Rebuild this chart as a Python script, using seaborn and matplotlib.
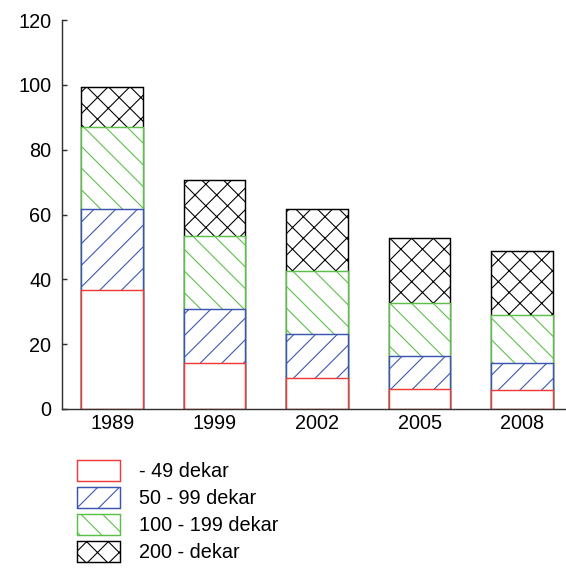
import numpy as np
import pandas as pd
import matplotlib
matplotlib.use("Agg")
import matplotlib.pyplot as plt
from matplotlib.patches import Patch
import seaborn as sns

years = ["1989", "1999", "2002", "2005", "2008"]
s_lt49 = [36.7, 14.1, 9.7, 6.1, 5.9]
s_50_99 = [25.1, 16.9, 13.3, 10.1, 8.4]
s_100_199 = [25.2, 22.3, 19.6, 16.6, 14.6]
s_200 = [12.4, 17.3, 19.1, 19.9, 19.8]
labels = ["- 49 dekar", "50 - 99 dekar", "100 - 199 dekar", "200 - dekar"]
yticks = [0, 20, 40, 60, 80, 100, 120]

sns.set_style("white")
plt.rcParams['font.family'] = ['Liberation Sans', 'DejaVu Sans']
plt.rcParams['hatch.linewidth'] = 0.6
plt.rcParams['text.color'] = 'black'
plt.rcParams['xtick.labelcolor'] = 'black'
plt.rcParams['ytick.labelcolor'] = 'black'

DPI = 130
FS = 11
fig = plt.figure(figsize=(566 / DPI, 570 / DPI), dpi=DPI)
ax = fig.add_axes([62 / 566, 1 - 409 / 570, 1 - 62 / 566, (409 - 20) / 570])

series = [s_lt49, s_50_99, s_100_199, s_200]
colors = ["#f03a3a", "#3a55b0", "#5cbf4a", "#000000"]
hatches = [None, "//", "\\\\", "xx"]
cums = np.cumsum(np.array(series), axis=0)

for i in range(3, -1, -1):
    df = pd.DataFrame({"year": years, "val": cums[i]})
    kw = {}
    if hatches[i]:
        kw["hatch"] = hatches[i]
    sns.barplot(data=df, x="year", y="val", order=years, color="white",
                edgecolor=colors[i], linewidth=0.8, width=0.6, ax=ax,
                saturation=1, **kw)

ax.set_xlim(-0.49, 4.43)
ax.set_ylim(0, 120)
ax.set_yticks(yticks)
ax.set_xlabel("")
ax.set_ylabel("")
for sp in ["top", "right"]:
    ax.spines[sp].set_visible(False)
for sp in ["left", "bottom"]:
    ax.spines[sp].set_color("#333333")
    ax.spines[sp].set_linewidth(0.8)
ax.tick_params(axis="y", direction="in", length=3, width=0.8, color="#333333",
               labelsize=FS, pad=6, left=True, labelcolor="black")
ax.tick_params(axis="x", length=0, labelsize=FS, pad=3, labelcolor="black")

handles = []
for i in range(4):
    handles.append(Patch(facecolor="white", edgecolor=colors[i], linewidth=0.8,
                         hatch=hatches[i]))
leg = fig.legend(handles, labels, loc="upper left", bbox_to_anchor=(73 / 566, 1 - 456 / 570),
                 frameon=False, fontsize=FS, handlelength=2.17, handleheight=1.25,
                 handletextpad=0.96, labelspacing=0.29, borderaxespad=0, borderpad=0.2)
for t in leg.get_texts():
    t.set_color("black")

fig.savefig("out.png", dpi=DPI)
